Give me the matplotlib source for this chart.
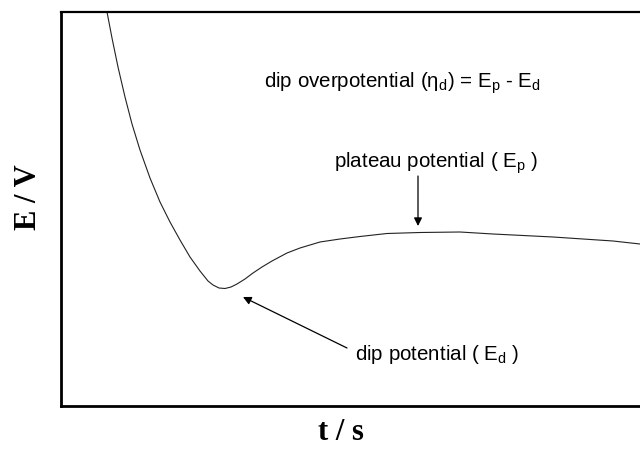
import matplotlib
matplotlib.use("Agg")
import matplotlib.pyplot as plt

plt.rcParams["mathtext.fontset"] = "custom"
plt.rcParams["mathtext.rm"] = "Liberation Sans"
plt.rcParams["mathtext.it"] = "Liberation Sans:italic"

# Chronopotential transient (arbitrary units)
t = [40, 46, 51, 57, 64, 71, 79, 89, 99, 109, 119, 129, 139, 147, 152, 158,
     164, 170, 176, 184, 192, 201, 211, 226, 239, 259, 279, 299, 326, 359,
     399, 432, 462, 492, 522, 552, 579]
E = [420, 394, 368, 339, 309, 282, 256, 228, 204, 184, 166, 149, 135, 125,
     121, 118, 117.5, 119, 122, 127, 133, 139, 145, 153, 158, 164, 167, 169.5,
     172.5, 173.5, 174, 172, 170.5, 169, 167, 165, 162]

W, H = 640, 450
fig = plt.figure(figsize=(W / 100, H / 100), dpi=100)
ax = fig.add_axes([61 / W, (H - 406) / H, (640 - 61) / W, (406 - 12) / H])

ax.plot(t, E, color="#222222", lw=0.8)
ax.set_xlim(0, 579)
ax.set_ylim(0, 394)
ax.set_xticks([])
ax.set_yticks([])
ax.spines["right"].set_visible(False)
ax.spines["left"].set_linewidth(2.0)
ax.spines["bottom"].set_linewidth(2.0)
ax.spines["top"].set_linewidth(1.6)

serif = {"family": "Liberation Serif", "weight": "bold", "size": 22}
fig.text(341 / W, 1 - 432 / H, "t / s", ha="center", va="center", fontdict=serif)
fig.text(29 / W, 1 - 197 / H, "E / V", ha="center", va="center", rotation=90, fontdict=serif)

sans = {"family": "Liberation Sans", "size": 14.8}


def px(x, y):
    return (x - 61, 406 - y)


ax.text(*px(264, 83), r"dip overpotential ($\mathregular{\eta_d}$) = $\mathregular{E_p}$ - $\mathregular{E_d}$",
        ha="left", va="center", fontdict=sans)
ax.text(*px(334, 163), r"plateau potential ( $\mathregular{E_p}$ )",
        ha="left", va="center", fontdict=sans)
ax.text(*px(355, 355), r"dip potential ( $\mathregular{E_d}$ )",
        ha="left", va="center", fontdict=sans)

arrow = dict(arrowstyle="-|>", color="black", lw=0.9, mutation_scale=12, shrinkA=0, shrinkB=0)
ax.annotate("", xy=px(418, 226), xytext=px(418, 176), arrowprops=arrow)
ax.annotate("", xy=px(243, 297), xytext=px(347, 348), arrowprops=arrow)

fig.savefig("out.png", dpi=100)
